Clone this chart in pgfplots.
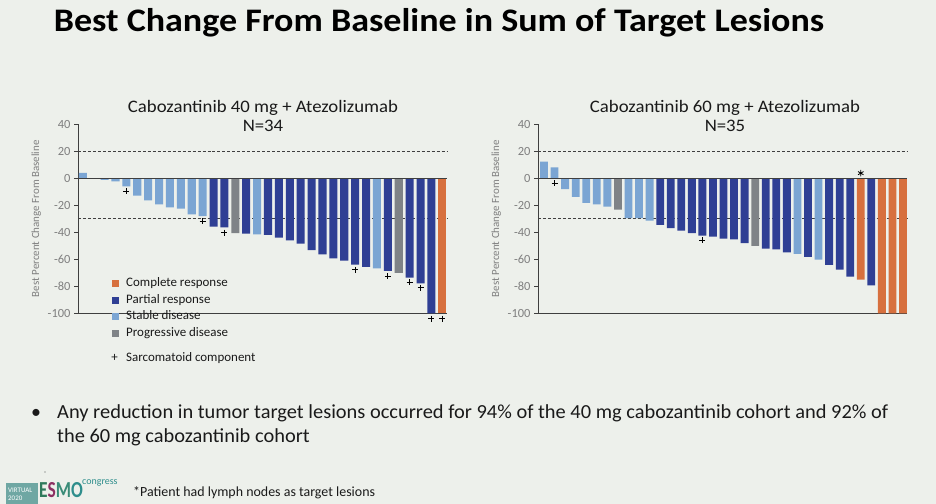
\documentclass[border=0pt]{standalone}
\usepackage{pgfplots}
\pgfplotsset{compat=1.18}
\usepackage{fontspec}
\setmainfont{Carlito}

\definecolor{bg}{HTML}{EDF0EB}
\definecolor{crC}{HTML}{D7703E}
\definecolor{prC}{HTML}{2F3F94}
\definecolor{sdC}{HTML}{7BA5D3}
\definecolor{pdC}{HTML}{7F8387}
\definecolor{tickC}{HTML}{7F7F7F}
\definecolor{axC}{HTML}{3F3F3F}
\definecolor{txtC}{HTML}{1A1A1A}
\definecolor{esmoBox}{HTML}{6FA7A3}
\definecolor{esmoE}{HTML}{2F7A5C}
\definecolor{esmoS}{HTML}{8C2F62}
\definecolor{esmoM}{HTML}{3A8C78}
\definecolor{esmoO}{HTML}{2E8E8C}

\pgfplotsset{
  waterfall/.style={
    scale only axis, width=369bp, height=189bp,
    ymin=-100, ymax=40, ytick={-100,-80,...,40},
    yticklabels={-100,-80,-60,-40,-20,0,20,40},
    xtick=\empty,
    axis y line*=left, axis x line*=none,
    axis line style={-, draw=axC, line width=0.9bp},
    tick align=outside, major tick length=4bp,
    tick style={draw=axC, line width=0.8bp},
    yticklabel style={font=\fontsize{12.5}{14}\selectfont, text=tickC},
    ylabel={Best Percent Change From Baseline},
    ylabel style={font=\fontsize{11}{12}\selectfont, text=tickC},
    clip=false, enlargelimits=false,
  },
  wbar/.style={ybar, bar width=0.74, bar shift=0pt, draw=none, fill=#1},
  refline/.style={densely dashed, draw=axC, line width=0.6bp, forget plot},
  zeroline/.style={draw=axC, line width=0.9bp, forget plot},
  pmark/.style={only marks, mark=+, mark size=3bp, line width=0.8bp, draw=black},
}

\begin{document}
\begin{tikzpicture}[x=1bp, y=1bp]
\path[use as bounding box, fill=bg] (0,0) rectangle (936,504);

% Main heading
\node[anchor=base, text=black, inner sep=0, xscale=1.096, font=\fontsize{33}{38}\selectfont\bfseries] at (439,472)
  {Best Change From Baseline in Sum of Target Lesions};

% Panel headings
\begin{scope}[every node/.style={anchor=base, text=txtC, inner sep=0, xscale=1.07, font=\fontsize{17.6}{20}\selectfont}]
\node at (263,391) {Cabozantinib 40 mg + Atezolizumab};
\node at (263,372) {N=34};
\node at (725,391) {Cabozantinib 60 mg + Atezolizumab};
\node at (725,372) {N=35};
\end{scope}

% ---- 40 mg cohort ----
\begin{axis}[waterfall, at={(78bp,190.7bp)}, anchor=south west, xmin=0.56, xmax=34.43]
\addplot[refline] coordinates {(0.56,20) (34.43,20)};
\addplot[refline] coordinates {(0.56,-30) (34.43,-30)};
% Complete response
\addplot[wbar=crC] coordinates {(34,-100)};
% Partial response
\addplot[wbar=prC] coordinates {
  (13,-35.8) (14,-36.3) (16,-41) (18,-42) (19,-44) (20,-46) (21,-48.4)
  (22,-53.3) (23,-56.3) (24,-59.3) (25,-61) (26,-64) (27,-65.7) (29,-68.6)
  (31,-73.6) (32,-77.8) (33,-100)};
% Stable disease
\addplot[wbar=sdC] coordinates {
  (1,4) (2,0) (3,-1.2) (4,-2.2) (5,-6) (6,-12.8) (7,-16.3) (8,-19.3)
  (9,-21.5) (10,-22.5) (11,-26.7) (12,-28) (17,-41.5) (28,-66.7)};
% Progressive disease
\addplot[wbar=pdC] coordinates {(15,-40.7) (30,-70.1)};
\addplot[zeroline] coordinates {(0.56,0) (34.43,0)};
% Sarcomatoid component
\addplot[pmark] coordinates {
  (5,-9.6) (12,-31.6) (14,-40.2) (26,-67.8) (29,-72.4) (31,-76.8)
  (32,-81) (33,-104) (34,-104)};
\end{axis}

% ---- 60 mg cohort ----
\begin{axis}[waterfall, at={(538bp,190.7bp)}, anchor=south west, xmin=0.43, xmax=35.38]
\addplot[refline] coordinates {(0.43,20) (35.38,20)};
\addplot[refline] coordinates {(0.43,-30) (35.38,-30)};
\addplot[wbar=crC] coordinates {(31,-75) (33,-100) (34,-100) (35,-100)};
\addplot[wbar=prC] coordinates {
  (12,-34.6) (13,-37) (14,-38.8) (15,-40.7) (16,-42.5) (17,-43.2) (18,-44.7)
  (19,-45.2) (20,-48.1) (22,-52.1) (23,-52.6) (24,-54.8) (26,-58.3)
  (28,-64.2) (29,-67.7) (30,-72.8) (32,-79.3)};
\addplot[wbar=sdC] coordinates {
  (1,12.3) (2,8.1) (3,-8.1) (4,-13.8) (5,-18.3) (6,-19.3) (7,-21)
  (9,-29.6) (10,-29.6) (11,-31.4) (25,-56) (27,-60.2)};
\addplot[wbar=pdC] coordinates {(8,-23.2) (21,-50.1)};
\addplot[zeroline] coordinates {(0.43,0) (35.38,0)};
\addplot[pmark] coordinates {(2,-3.7) (16,-46)};
% lymph-node target lesions
\addplot[only marks, mark=asterisk, mark size=3.2bp, line width=0.8bp, draw=black] coordinates {(31,3.8)};
\end{axis}

% Legend
\begin{scope}[font=\fontsize{13}{15}\selectfont]
\fill[crC] (112,217) rectangle (119,224);
\node[anchor=base west, text=txtC, inner sep=0] at (126,217) {Complete response};
\fill[prC] (112,200) rectangle (119,207);
\node[anchor=base west, text=txtC, inner sep=0] at (126,200) {Partial response};
\fill[sdC] (112,184) rectangle (119,191);
\node[anchor=base west, text=txtC, inner sep=0] at (126,184) {Stable disease};
\fill[pdC] (112,167) rectangle (119,174);
\node[anchor=base west, text=txtC, inner sep=0] at (126,167) {Progressive disease};
\node[anchor=base, text=txtC, inner sep=0] at (114.5,142) {+};
\node[anchor=base west, text=txtC, inner sep=0] at (126,142) {Sarcomatoid component};
\end{scope}

% Bullet text
\begin{scope}[font=\fontsize{20}{24}\selectfont]
\node[anchor=base, text=txtC, inner sep=0] at (36,85) {•};
\node[anchor=base west, text=txtC, inner sep=0, xscale=1.025] at (57,85)
  {Any reduction in tumor target lesions occurred for 94\% of the 40 mg cabozantinib cohort and 92\% of};
\node[anchor=base west, text=txtC, inner sep=0, xscale=1.025] at (57,61) {the 60 mg cabozantinib cohort};
\end{scope}

% Footnote
\node[anchor=base west, text=txtC, inner sep=0, font=\fontsize{14}{16}\selectfont] at (133,7)
  {*Patient had lymph nodes as target lesions};

% Congress logo
\fill[black!70] (45,32) circle (0.7);
\fill[esmoBox] (6,0) rectangle (38,21);
\node[anchor=base west, text=white, inner sep=0, font=\fontsize{7}{8}\selectfont] at (8,11) {VIRTUAL};
\node[anchor=base west, text=white, inner sep=0, font=\fontsize{7}{8}\selectfont] at (8,3) {2020};
\node[anchor=base west, inner sep=0, xscale=0.76, font=\fontsize{23}{26}\selectfont\bfseries] at (39,6)
  {\textcolor{esmoE}{E}\textcolor{esmoS}{S}\textcolor{esmoM}{M}\textcolor{esmoO}{O}};
\node[anchor=base west, text=esmoO, inner sep=0, font=\fontsize{10}{11}\selectfont] at (82,19) {congress};
\end{tikzpicture}
\end{document}
